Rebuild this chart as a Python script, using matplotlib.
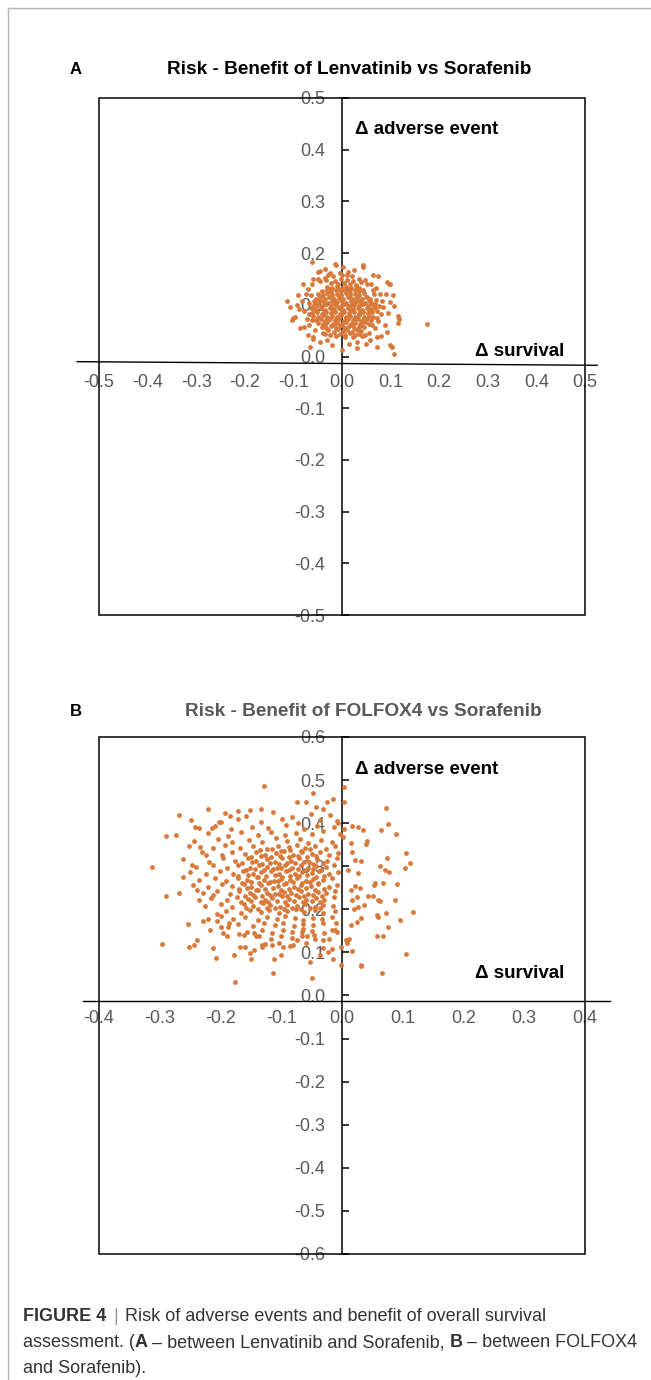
import matplotlib
matplotlib.use("Agg")
import matplotlib.pyplot as plt
from matplotlib.patches import Rectangle
from matplotlib.lines import Line2D
from matplotlib.ticker import FormatStrFormatter
import numpy as np

plt.rcParams['font.family'] = ['Liberation Sans', 'DejaVu Sans']

# (delta survival, delta adverse event), Lenvatinib vs Sorafenib
lenv_pts = np.array([
    (-0.028, 0.051), (-0.017, 0.048), (-0.008, 0.053), (0.002, 0.049), (0.011, 0.052), (0.020, 0.047), (0.031, 0.051), (0.040, 0.049),
    (-0.041, 0.058), (-0.032, 0.055), (-0.022, 0.059), (-0.013, 0.056), (-0.004, 0.060), (0.006, 0.056), (0.015, 0.059), (0.024, 0.055),
    (0.034, 0.058), (0.046, 0.057),
    (-0.049, 0.065), (-0.039, 0.063), (-0.030, 0.066), (-0.019, 0.062), (-0.010, 0.065), (0.000, 0.063), (0.009, 0.066), (0.018, 0.062),
    (0.027, 0.065), (0.037, 0.063), (0.047, 0.066), (0.055, 0.062),
    (-0.054, 0.070), (-0.044, 0.072), (-0.035, 0.069), (-0.025, 0.073), (-0.015, 0.070), (-0.006, 0.072), (0.004, 0.069), (0.013, 0.073),
    (0.022, 0.070), (0.032, 0.072), (0.041, 0.069), (0.051, 0.073), (0.060, 0.071),
    (-0.059, 0.079), (-0.050, 0.077), (-0.040, 0.080), (-0.031, 0.076), (-0.021, 0.079), (-0.011, 0.077), (-0.002, 0.080), (0.008, 0.076),
    (0.017, 0.079), (0.027, 0.077), (0.036, 0.080), (0.046, 0.076), (0.055, 0.079), (0.064, 0.077),
    (-0.061, 0.084), (-0.052, 0.086), (-0.042, 0.083), (-0.033, 0.087), (-0.023, 0.084), (-0.014, 0.086), (-0.004, 0.083), (0.005, 0.087),
    (0.015, 0.084), (0.024, 0.086), (0.034, 0.083), (0.043, 0.087), (0.053, 0.084), (0.062, 0.086),
    (-0.063, 0.093), (-0.054, 0.091), (-0.044, 0.094), (-0.035, 0.090), (-0.025, 0.093), (-0.016, 0.091), (-0.006, 0.094), (0.003, 0.090),
    (0.013, 0.093), (0.022, 0.091), (0.032, 0.094), (0.041, 0.090), (0.051, 0.093), (0.060, 0.091), (0.068, 0.094),
    (-0.060, 0.098), (-0.051, 0.100), (-0.041, 0.097), (-0.032, 0.101), (-0.022, 0.098), (-0.013, 0.100), (-0.003, 0.097), (0.006, 0.101),
    (0.016, 0.098), (0.025, 0.100), (0.035, 0.097), (0.044, 0.101), (0.054, 0.098), (0.063, 0.100),
    (-0.058, 0.107), (-0.048, 0.105), (-0.039, 0.108), (-0.029, 0.104), (-0.020, 0.107), (-0.010, 0.105), (-0.001, 0.108), (0.009, 0.104),
    (0.018, 0.107), (0.028, 0.105), (0.037, 0.108), (0.047, 0.104), (0.056, 0.107),
    (-0.054, 0.112), (-0.045, 0.114), (-0.035, 0.111), (-0.026, 0.115), (-0.016, 0.112), (-0.007, 0.114), (0.003, 0.111), (0.012, 0.115),
    (0.022, 0.112), (0.031, 0.114), (0.041, 0.111), (0.050, 0.115), (0.058, 0.112),
    (-0.049, 0.121), (-0.040, 0.119), (-0.030, 0.122), (-0.021, 0.118), (-0.011, 0.121), (-0.002, 0.119), (0.008, 0.122), (0.017, 0.118),
    (0.027, 0.121), (0.036, 0.119), (0.046, 0.122),
    (-0.041, 0.126), (-0.031, 0.128), (-0.022, 0.125), (-0.012, 0.129), (-0.003, 0.126), (0.007, 0.128), (0.016, 0.125), (0.026, 0.129),
    (0.035, 0.126), (0.044, 0.128),
    (-0.030, 0.135), (-0.020, 0.133), (-0.011, 0.136), (-0.001, 0.132), (0.009, 0.135), (0.018, 0.133), (0.028, 0.136), (0.036, 0.133),
    (-0.022, 0.142), (-0.008, 0.140), (0.004, 0.143), (0.017, 0.141), (0.029, 0.139),
    (-0.036, 0.061), (-0.018, 0.060), (0.001, 0.061), (0.020, 0.060), (0.039, 0.061),
    (-0.049, 0.075), (-0.030, 0.074), (-0.010, 0.075), (0.009, 0.074), (0.027, 0.075), (0.046, 0.074),
    (-0.056, 0.089), (-0.038, 0.088), (-0.019, 0.089), (0.000, 0.088), (0.019, 0.089), (0.037, 0.088), (0.056, 0.089),
    (-0.055, 0.103), (-0.036, 0.102), (-0.017, 0.103), (0.002, 0.102), (0.021, 0.103), (0.040, 0.102), (0.059, 0.103),
    (-0.043, 0.117), (-0.024, 0.116), (-0.005, 0.117), (0.014, 0.116), (0.033, 0.117), (0.052, 0.116),
    (-0.026, 0.131), (-0.007, 0.130), (0.012, 0.131), (0.031, 0.130),
    (-0.035, 0.043), (-0.024, 0.041), (-0.004, 0.044), (0.007, 0.042), (0.016, 0.045), (0.027, 0.041), (0.036, 0.044), (0.048, 0.042),
    (-0.045, 0.146), (-0.033, 0.148), (-0.015, 0.147), (-0.002, 0.150), (0.010, 0.148), (0.023, 0.146), (0.040, 0.144), (0.052, 0.140),
    (-0.005, 0.162), (0.010, 0.158), (-0.028, 0.158),
    (0.068, 0.102), (0.072, 0.088), (0.070, 0.110), (0.066, 0.120), (0.073, 0.075), (0.062, 0.060), (0.064, 0.128), (0.077, 0.097),
    (-0.068, 0.082), (-0.067, 0.104), (-0.064, 0.118), (-0.062, 0.070),
    # fringe
    (-0.062, 0.183), (-0.012, 0.177), (0.003, 0.174), (0.043, 0.174), (-0.049, 0.164), (-0.025, 0.161), (0.013, 0.164), (0.064, 0.158),
    (0.092, 0.145), (0.099, 0.141), (-0.093, 0.100), (-0.100, 0.074), (-0.059, 0.038), (0.116, 0.064), (0.092, 0.048), (0.099, 0.022),
    (0.006, 0.038), (-0.031, 0.032), (0.030, 0.029), (-0.113, 0.108), (-0.108, 0.096), (-0.097, 0.076), (-0.103, 0.070), (0.174, 0.062),
    (0.116, 0.078), (0.118, 0.072), (0.102, 0.019), (0.107, 0.004), (-0.059, 0.033), (-0.066, 0.019), (0.001, 0.013), (0.030, 0.016),
    (0.071, 0.018), (0.044, 0.177), (-0.014, 0.178), (-0.045, 0.165), (-0.059, 0.149), (0.097, 0.140), (0.099, 0.106), (0.058, 0.032),
    (0.072, 0.037), (-0.086, 0.055), (-0.079, 0.058),
    (-0.075, 0.120), (-0.082, 0.108), (-0.078, 0.088), (-0.072, 0.072), (-0.070, 0.130), (-0.062, 0.140), (-0.050, 0.150), (-0.035, 0.152),
    (-0.018, 0.155), (0.000, 0.158), (0.020, 0.155), (0.034, 0.150), (0.048, 0.148), (0.060, 0.140), (0.070, 0.132), (0.078, 0.120),
    (0.083, 0.108), (0.085, 0.095), (0.080, 0.082), (0.075, 0.068), (0.068, 0.055), (0.055, 0.045), (0.042, 0.040), (0.022, 0.038),
    (-0.012, 0.040), (-0.040, 0.045), (-0.055, 0.052), (-0.068, 0.060), (-0.088, 0.092), (-0.090, 0.118), (0.090, 0.120), (0.095, 0.085),
    (0.088, 0.060), (0.015, 0.025), (-0.020, 0.022), (-0.045, 0.028), (0.050, 0.024), (0.080, 0.040), (-0.080, 0.140), (0.075, 0.155),
    (0.025, 0.168), (-0.035, 0.170), (0.108, 0.098), (0.105, 0.118), (-0.070, 0.042),
])

# (delta survival, delta adverse event), FOLFOX4 vs Sorafenib
folfox_pts = np.array([
    (-0.192, 0.423), (-0.158, 0.417), (-0.113, 0.426), (-0.082, 0.414), (-0.051, 0.421), (-0.019, 0.418),
    (-0.203, 0.402), (-0.171, 0.409), (-0.134, 0.403), (-0.098, 0.410), (-0.072, 0.401), (-0.036, 0.407), (-0.009, 0.404),
    (-0.236, 0.388), (-0.209, 0.394), (-0.183, 0.386), (-0.148, 0.392), (-0.121, 0.389), (-0.092, 0.395), (-0.063, 0.387), (-0.041, 0.393),
    (-0.013, 0.390),
    (-0.221, 0.377), (-0.188, 0.371), (-0.166, 0.379), (-0.139, 0.373), (-0.117, 0.380), (-0.094, 0.372), (-0.076, 0.378), (-0.049, 0.374),
    (-0.031, 0.381), (-0.004, 0.376),
    (-0.243, 0.358), (-0.204, 0.364), (-0.181, 0.356), (-0.153, 0.362), (-0.132, 0.357), (-0.108, 0.365), (-0.091, 0.359), (-0.069, 0.363),
    (-0.056, 0.355), (-0.034, 0.361), (-0.016, 0.357),
    (-0.252, 0.347), (-0.213, 0.342), (-0.192, 0.349), (-0.168, 0.343), (-0.146, 0.348), (-0.124, 0.341), (-0.106, 0.347), (-0.088, 0.344),
    (-0.074, 0.350), (-0.061, 0.342), (-0.044, 0.346), (-0.027, 0.340), (-0.011, 0.348),
    (-0.231, 0.332), (-0.198, 0.327), (-0.181, 0.334), (-0.159, 0.328), (-0.141, 0.333), (-0.126, 0.326), (-0.109, 0.331), (-0.096, 0.335),
    (-0.081, 0.327), (-0.066, 0.332), (-0.049, 0.329), (-0.036, 0.334), (-0.021, 0.326), (-0.006, 0.331),
    (-0.262, 0.317), (-0.219, 0.311), (-0.196, 0.318), (-0.176, 0.313), (-0.154, 0.319), (-0.141, 0.312), (-0.124, 0.316), (-0.111, 0.310),
    (-0.098, 0.318), (-0.084, 0.313), (-0.071, 0.319), (-0.054, 0.311), (-0.041, 0.316), (-0.024, 0.312), (-0.009, 0.318),
    (-0.241, 0.298), (-0.212, 0.303), (-0.189, 0.296), (-0.171, 0.302), (-0.151, 0.297), (-0.137, 0.304), (-0.123, 0.299), (-0.107, 0.295),
    (-0.094, 0.302), (-0.083, 0.297), (-0.067, 0.303), (-0.056, 0.296), (-0.043, 0.301), (-0.027, 0.298), (-0.013, 0.304),
    (-0.251, 0.287), (-0.224, 0.282), (-0.201, 0.289), (-0.179, 0.283), (-0.163, 0.288), (-0.146, 0.281), (-0.133, 0.286), (-0.117, 0.290),
    (-0.104, 0.283), (-0.093, 0.288), (-0.077, 0.281), (-0.066, 0.287), (-0.049, 0.284), (-0.038, 0.289), (-0.021, 0.282), (-0.007, 0.286),
    (-0.236, 0.268), (-0.209, 0.273), (-0.191, 0.266), (-0.171, 0.272), (-0.156, 0.267), (-0.139, 0.274), (-0.128, 0.269), (-0.112, 0.265),
    (-0.101, 0.271), (-0.086, 0.267), (-0.074, 0.273), (-0.059, 0.266), (-0.047, 0.271), (-0.031, 0.268), (-0.016, 0.273),
    (-0.246, 0.257), (-0.221, 0.252), (-0.197, 0.258), (-0.181, 0.253), (-0.162, 0.259), (-0.149, 0.251), (-0.133, 0.256), (-0.121, 0.260),
    (-0.106, 0.253), (-0.095, 0.258), (-0.079, 0.251), (-0.067, 0.257), (-0.051, 0.254), (-0.039, 0.259), (-0.021, 0.252), (-0.008, 0.256),
    (-0.229, 0.238), (-0.206, 0.243), (-0.185, 0.236), (-0.169, 0.242), (-0.151, 0.237), (-0.139, 0.244), (-0.123, 0.239), (-0.111, 0.235),
    (-0.096, 0.241), (-0.084, 0.237), (-0.068, 0.243), (-0.056, 0.236), (-0.039, 0.241), (-0.027, 0.238), (-0.011, 0.243),
    (-0.216, 0.227), (-0.189, 0.222), (-0.173, 0.228), (-0.155, 0.223), (-0.143, 0.229), (-0.127, 0.221), (-0.115, 0.226), (-0.099, 0.230),
    (-0.087, 0.223), (-0.071, 0.228), (-0.059, 0.221), (-0.042, 0.226), (-0.029, 0.222), (-0.013, 0.228),
    (-0.226, 0.208), (-0.199, 0.213), (-0.181, 0.206), (-0.161, 0.212), (-0.147, 0.207), (-0.130, 0.214), (-0.118, 0.209), (-0.102, 0.205),
    (-0.090, 0.211), (-0.074, 0.207), (-0.061, 0.213), (-0.044, 0.206), (-0.031, 0.211), (-0.014, 0.208),
    (-0.191, 0.197), (-0.167, 0.192), (-0.151, 0.198), (-0.133, 0.193), (-0.120, 0.199), (-0.104, 0.191), (-0.091, 0.196), (-0.075, 0.200),
    (-0.062, 0.193), (-0.045, 0.198), (-0.031, 0.191), (-0.011, 0.196),
    (-0.179, 0.178), (-0.159, 0.183), (-0.139, 0.176), (-0.124, 0.182), (-0.107, 0.177), (-0.094, 0.184), (-0.077, 0.179), (-0.064, 0.175),
    (-0.047, 0.181), (-0.033, 0.177), (-0.017, 0.183),
    (-0.171, 0.167), (-0.146, 0.162), (-0.129, 0.168), (-0.111, 0.163), (-0.097, 0.169), (-0.079, 0.161), (-0.065, 0.166), (-0.047, 0.163),
    (-0.031, 0.168),
    (-0.156, 0.148), (-0.132, 0.153), (-0.116, 0.146), (-0.097, 0.152), (-0.083, 0.147), (-0.064, 0.154), (-0.049, 0.149), (-0.029, 0.145),
    (-0.012, 0.151),
    (-0.141, 0.137), (-0.117, 0.132), (-0.101, 0.138), (-0.082, 0.133), (-0.066, 0.139), (-0.044, 0.131),
    (-0.131, 0.118), (-0.104, 0.123), (-0.086, 0.116), (-0.059, 0.122),
    # denser middle
    (-0.158, 0.203), (-0.139, 0.201), (-0.124, 0.204), (-0.110, 0.202), (-0.096, 0.200), (-0.082, 0.203), (-0.067, 0.201), (-0.052, 0.204),
    (-0.037, 0.202),
    (-0.166, 0.217), (-0.149, 0.219), (-0.134, 0.216), (-0.121, 0.218), (-0.107, 0.220), (-0.094, 0.216), (-0.079, 0.219), (-0.065, 0.217),
    (-0.050, 0.220), (-0.036, 0.216),
    (-0.160, 0.232), (-0.146, 0.234), (-0.131, 0.231), (-0.118, 0.233), (-0.104, 0.235), (-0.090, 0.231), (-0.076, 0.233), (-0.062, 0.232),
    (-0.047, 0.234), (-0.033, 0.231),
    (-0.170, 0.247), (-0.156, 0.249), (-0.142, 0.246), (-0.127, 0.248), (-0.114, 0.250), (-0.100, 0.246), (-0.087, 0.248), (-0.073, 0.247),
    (-0.059, 0.249), (-0.045, 0.246), (-0.030, 0.248),
    (-0.165, 0.262), (-0.150, 0.264), (-0.136, 0.261), (-0.119, 0.263), (-0.106, 0.265), (-0.093, 0.261), (-0.080, 0.263), (-0.066, 0.262),
    (-0.053, 0.264), (-0.039, 0.261),
    (-0.171, 0.277), (-0.155, 0.279), (-0.140, 0.276), (-0.125, 0.278), (-0.111, 0.280), (-0.098, 0.276), (-0.085, 0.278), (-0.071, 0.277),
    (-0.057, 0.279), (-0.043, 0.276), (-0.029, 0.278),
    (-0.158, 0.292), (-0.144, 0.294), (-0.129, 0.291), (-0.113, 0.293), (-0.100, 0.295), (-0.088, 0.291), (-0.073, 0.293), (-0.061, 0.292),
    (-0.048, 0.294), (-0.034, 0.291),
    (-0.165, 0.307), (-0.148, 0.309), (-0.132, 0.306), (-0.118, 0.308), (-0.104, 0.306), (-0.091, 0.308), (-0.077, 0.307), (-0.062, 0.309),
    (-0.047, 0.306), (-0.032, 0.308),
    (-0.150, 0.322), (-0.133, 0.324), (-0.117, 0.321), (-0.102, 0.323), (-0.088, 0.321), (-0.073, 0.324), (-0.058, 0.322), (-0.043, 0.323),
    (-0.135, 0.337), (-0.116, 0.339), (-0.100, 0.336), (-0.085, 0.338), (-0.068, 0.336), (-0.052, 0.339),
    # scattered points around the cloud
    (-0.128, 0.487), (-0.269, 0.419), (-0.221, 0.433), (-0.249, 0.407), (-0.290, 0.371), (-0.274, 0.372), (-0.313, 0.299), (-0.242, 0.390),
    (-0.214, 0.388), (-0.199, 0.402), (-0.184, 0.416), (-0.171, 0.429), (-0.151, 0.431), (-0.134, 0.434),
    (0.003, 0.485), (-0.047, 0.471), (-0.074, 0.450), (-0.059, 0.450), (-0.014, 0.456), (-0.025, 0.448), (-0.043, 0.438), (-0.031, 0.432),
    (0.072, 0.436), (0.004, 0.448), (0.075, 0.397), (0.064, 0.383), (0.089, 0.376), (0.016, 0.393), (0.027, 0.390), (0.035, 0.385),
    (0.004, 0.386), (0.002, 0.369), (0.041, 0.359), (0.039, 0.352), (0.015, 0.353), (0.106, 0.331), (0.074, 0.318), (0.112, 0.307),
    (0.104, 0.295), (0.063, 0.301), (0.070, 0.291), (0.078, 0.286), (0.016, 0.334), (0.021, 0.315), (0.031, 0.312), (0.027, 0.284),
    (0.010, 0.291), (-0.006, 0.400),
    (0.090, 0.258), (0.067, 0.260), (0.052, 0.256), (0.042, 0.232), (0.051, 0.230), (0.060, 0.222), (0.063, 0.219), (0.088, 0.222),
    (0.117, 0.193), (0.095, 0.175), (0.072, 0.191), (0.058, 0.187), (0.060, 0.182), (0.075, 0.160), (0.067, 0.139), (0.057, 0.137),
    (0.106, 0.096), (0.031, 0.071), (0.066, 0.052), (0.016, 0.103), (0.009, 0.121), (0.006, 0.128), (0.011, 0.130), (-0.001, 0.113),
    (-0.002, 0.071), (0.015, 0.164), (0.024, 0.171), (0.032, 0.180), (0.019, 0.200), (0.027, 0.205), (0.036, 0.209), (0.017, 0.222),
    (0.025, 0.229), (0.030, 0.250), (0.014, 0.246), (0.021, 0.254), (0.054, 0.262),
    (-0.050, 0.041), (-0.014, 0.085), (-0.023, 0.102), (-0.017, 0.108), (-0.037, 0.094), (-0.053, 0.078), (-0.032, 0.110), (-0.031, 0.129),
    (-0.022, 0.132), (-0.046, 0.140), (-0.057, 0.137), (-0.066, 0.148), (-0.074, 0.129), (-0.080, 0.117), (-0.016, 0.152), (-0.008, 0.148),
    (-0.010, 0.168),
    (-0.290, 0.232), (-0.269, 0.237), (-0.239, 0.245), (-0.236, 0.222), (-0.254, 0.165), (-0.296, 0.120), (-0.252, 0.113), (-0.244, 0.117),
    (-0.238, 0.129), (-0.228, 0.174), (-0.220, 0.177), (-0.218, 0.152), (-0.212, 0.233), (-0.212, 0.111), (-0.208, 0.088), (-0.176, 0.032),
    (-0.177, 0.094), (-0.150, 0.085), (-0.113, 0.053), (-0.112, 0.085), (-0.100, 0.094), (-0.151, 0.099), (-0.168, 0.113), (-0.159, 0.112),
    (-0.145, 0.106), (-0.131, 0.113), (-0.126, 0.120), (-0.115, 0.117), (-0.097, 0.113), (-0.162, 0.141), (-0.170, 0.142), (-0.145, 0.144),
    (-0.136, 0.138), (-0.190, 0.137), (-0.196, 0.144), (-0.200, 0.160), (-0.188, 0.160), (-0.186, 0.168), (-0.205, 0.172), (-0.200, 0.184),
    (-0.205, 0.190), (0.032, 0.068), (-0.247, 0.303), (-0.234, 0.345), (-0.224, 0.326), (-0.261, 0.276),
])

lenv_ticks = [-0.5, -0.4, -0.3, -0.2, -0.1, 0.0, 0.1, 0.2, 0.3, 0.4, 0.5]
folfox_xticks = [-0.4, -0.3, -0.2, -0.1, 0.0, 0.1, 0.2, 0.3, 0.4]
folfox_yticks = [-0.6, -0.5, -0.4, -0.3, -0.2, -0.1, 0.0, 0.1, 0.2, 0.3, 0.4, 0.5, 0.6]

W, H = 651, 1380
fig = plt.figure(figsize=(W / 100, H / 100), dpi=100)

dot = '#D8793A'
grey = '#595959'


def fx(px):
    return px / W


def fy(py):
    return 1 - py / H


def panel(top, pts, xt, yt, hline_x, hline_y):
    ax = fig.add_axes([fx(99), fy(top + 517), fx(486), 517 / H])
    ax.set_xlim(xt[0], xt[-1])
    ax.set_ylim(yt[0], yt[-1])
    for s in ['top', 'right']:
        ax.spines[s].set_visible(False)
    ax.add_patch(Rectangle((0, 0), 1, 1, transform=ax.transAxes, fill=False,
                           lw=1.1, ec='black', clip_on=False, zorder=2))
    ax.spines['left'].set_position(('data', 0))
    ax.spines['left'].set_linewidth(1.1)
    ax.spines['bottom'].set_position(('data', hline_y[1]))
    ax.spines['bottom'].set_visible(False)
    ax.plot(hline_x, hline_y, color='black', lw=1.0, clip_on=False, zorder=2)
    ax.set_xticks(xt)
    ax.set_yticks(yt)
    ax.xaxis.set_major_formatter(FormatStrFormatter('%.1f'))
    ax.yaxis.set_major_formatter(FormatStrFormatter('%.1f'))
    ax.tick_params(axis='x', length=0, pad=6.5, labelsize=13, labelcolor=grey)
    ax.tick_params(axis='y', direction='in', length=5, width=1.1, pad=12,
                   labelsize=13, labelcolor=grey)
    ax.scatter(pts[:, 0], pts[:, 1], s=12, color=dot, lw=0, zorder=3, clip_on=False)
    return ax


ax_a = panel(98, lenv_pts, lenv_ticks, lenv_ticks, [-0.545, 0.525], [-0.010, -0.017])
ax_b = panel(737, folfox_pts, folfox_xticks, folfox_yticks, [-0.426, 0.441], [-0.012, -0.012])

# panel letters, titles and axis names
for top, letter, title, tcol, tx in [(0, 'A', 'Risk - Benefit of Lenvatinib vs Sorafenib', 'black', 349),
                                     (641, 'B', 'Risk - Benefit of FOLFOX4 vs Sorafenib', grey, 363)]:
    fig.text(fx(70), fy(70 + top), letter, fontsize=12, fontweight='bold', va='center')
    fig.text(fx(tx), fy(70 + top), title, fontsize=13.7, fontweight='bold', color=tcol,
             ha='center', va='center')

for ytop, ysurv in [(130, 351), (769, 973)]:
    fig.text(fx(355), fy(ytop), 'Δ adverse event', fontsize=13.5, fontweight='bold', va='center')
    fig.text(fx(564), fy(ysurv), 'Δ survival', fontsize=13.5, fontweight='bold', va='center', ha='right')

# frame lines of the page
fig.add_artist(Line2D([fx(8), 1], [fy(8), fy(8)], color='#b5b5b5', lw=1))
fig.add_artist(Line2D([fx(8), fx(8)], [fy(8), 0], color='#b5b5b5', lw=1))

# caption, drawn run by run so bold parts can sit inside the line
renderer = fig.canvas.get_renderer()
cap_size = 13
cap_col = '#333333'
space = 4.5


def runs(x, y, parts):
    for text, weight, col, gap in parts:
        x += gap
        t = fig.text(fx(x), fy(y), text, fontsize=cap_size, fontweight=weight, color=col, va='baseline')
        x += t.get_window_extent(renderer=renderer).width


runs(23, 1321, [('FIGURE 4', 'bold', cap_col, 0), ('|', 'normal', '#999999', 7),
                ('Risk of adverse events and benefit of overall survival', 'normal', cap_col, 7)])
runs(23, 1347, [('assessment. (', 'normal', cap_col, 0), ('A', 'bold', cap_col, 0),
                ('– between Lenvatinib and Sorafenib,', 'normal', cap_col, space),
                ('B', 'bold', cap_col, space), ('– between FOLFOX4', 'normal', cap_col, space)])
runs(23, 1373, [('and Sorafenib).', 'normal', cap_col, 0)])

fig.savefig('out.png', dpi=100)
